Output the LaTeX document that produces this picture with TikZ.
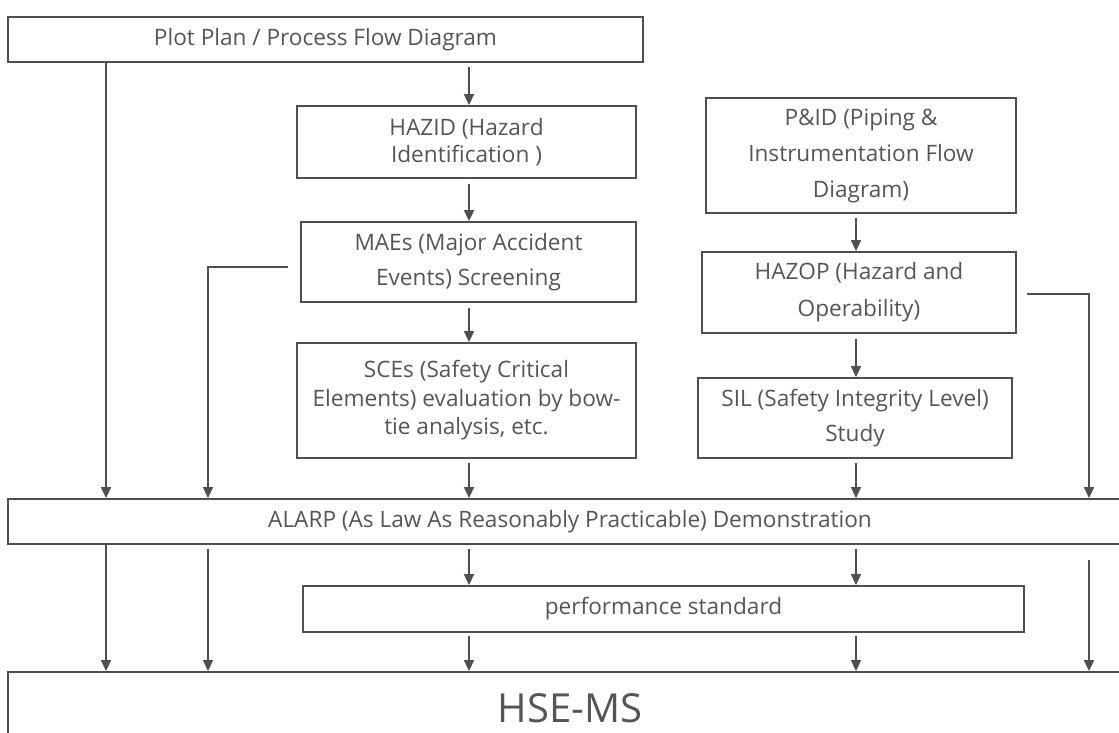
\documentclass[tikz,border=0pt]{standalone}
\usepackage{fontspec}
\setmainfont{Open Sans}
\usetikzlibrary{arrows.meta,calc}
\definecolor{edge}{HTML}{4F4F4F}
\definecolor{ink}{HTML}{555555}

\begin{document}
\begin{tikzpicture}[x=1pt,y=-1pt,
  box/.style={draw=edge, line width=1.8pt, align=center, text=ink, inner sep=0pt,
    font=\fontsize{22.6}{27}\selectfont},
  flow/.style={draw=edge, line width=1.6pt, -{Triangle[length=11pt,width=10pt]}}]
\useasboundingbox (0,0) rectangle (1119,733);
\clip (0,0) rectangle (1119,733);

% columns used by the vertical connectors
\coordinate (colA) at (106,0);
\coordinate (colB) at (208,0);
\coordinate (colC) at (469,0);
\coordinate (colD) at (856,0);
\coordinate (colE) at (1089,0);

% boxes
\node[box, minimum width=635pt, minimum height=45pt] (plot) at (325.5,39.5)
  {Plot Plan / Process Flow Diagram};
\node[box, minimum width=339pt, minimum height=72pt] (hazid) at (466.5,142)
  {HAZID (Hazard\\Identification )};
\node[box, font=\fontsize{22.6}{35}\selectfont, minimum width=335pt, minimum height=80pt] (maes) at (468.5,262)
  {MAEs (Major Accident\\Events) Screening};
\node[box, font=\fontsize{22.6}{28.5}\selectfont, minimum width=339pt, minimum height=115pt] (sces) at (466.5,400.5)
  {SCEs (Safety Critical\\Elements) evaluation by bow-\\tie analysis, etc.};
\node[box, font=\fontsize{22.6}{36}\selectfont, minimum width=310pt, minimum height=115pt] (pid) at (861,155.5)
  {P\&ID (Piping \&\\Instrumentation Flow\\Diagram)};
\node[box, font=\fontsize{22.6}{37}\selectfont, minimum width=314pt, minimum height=81pt] (hazop) at (859,292.5)
  {HAZOP (Hazard and\\Operability)};
\node[box, font=\fontsize{22.6}{35}\selectfont, minimum width=314pt, minimum height=80pt] (sil) at (855,418)
  {SIL (Safety Integrity Level)\\Study};
\node[box, minimum width=1124pt, minimum height=45pt] (alarp) at (570,521.5)
  {ALARP (As Law As Reasonably Practicable) Demonstration};
\node[box, minimum width=721pt, minimum height=46pt] (perf) at (663.5,609)
  {performance standard};
\node[box, font=\fontsize{40}{48}\selectfont, minimum width=1124pt, minimum height=72pt] (hse) at (570,708)
  {HSE-MS};

% connectors into ALARP
\draw[flow] (plot.south -| colA) -- (alarp.north -| colA);
\draw[flow, shorten <=4pt] (plot.south -| colC) -- (hazid.north -| colC);
\draw[flow, shorten <=5pt] (hazid.south -| colC) -- (maes.north -| colC);
\draw[flow, shorten <=5pt] (maes.south -| colC) -- (sces.north -| colC);
\draw[flow, shorten <=4pt] (sces.south -| colC) -- (alarp.north -| colC);
\draw[flow, shorten <=12pt] ([yshift=-5pt]maes.west) -| (alarp.north -| colB);
\draw[flow, shorten <=4pt] (pid.south -| colD) -- (hazop.north -| colD);
\draw[flow, shorten <=5pt] (hazop.south -| colD) -- (sil.north -| colD);
\draw[flow, shorten <=4pt] (sil.south -| colD) -- (alarp.north -| colD);
\draw[flow, shorten <=10pt] ([yshift=-1.5pt]hazop.east) -| (alarp.north -| colE);

% connectors into HSE-MS
\draw[flow] (alarp.south -| colA) -- (hse.north -| colA);
\draw[flow, shorten <=4pt] (alarp.south -| colB) -- (hse.north -| colB);
\draw[flow, shorten <=4pt] (alarp.south -| colC) -- (perf.north -| colC);
\draw[flow, shorten <=4pt] (alarp.south -| colD) -- (perf.north -| colD);
\draw[flow, shorten <=15pt] (alarp.south -| colE) -- (hse.north -| colE);
\draw[flow, shorten <=3pt] (perf.south -| colC) -- (hse.north -| colC);
\draw[flow, shorten <=3pt] (perf.south -| colD) -- (hse.north -| colD);
\end{tikzpicture}
\end{document}
